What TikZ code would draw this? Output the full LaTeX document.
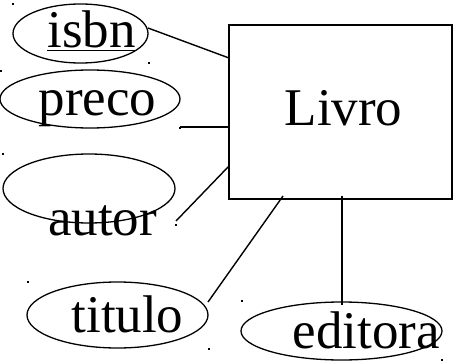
\documentclass[tikz,border=0pt]{standalone}
\usepackage{fontspec}
\setmainfont{Liberation Serif}
\usetikzlibrary{shapes.geometric}
\begin{document}
\begin{tikzpicture}[x=1pt,y=-1pt,
  attr/.style={draw, ellipse, line width=1.3pt, inner sep=0pt},
  lbl/.style={anchor=base, inner sep=0pt, font=\fontsize{53}{60}\selectfont},
  link/.style={line width=1.4pt},
  handle/.style={fill=black, inner sep=0pt, minimum size=1.6pt}]
\useasboundingbox (0,0) rectangle (453,361);

% entity
\node[draw, line width=1.8pt, minimum width=223pt, minimum height=174pt, inner sep=0pt] (livro) at (340.5,112) {};
\node[lbl] (t-livro) at (343.5,125) {Livro};

% attribute ellipses
\node[attr, minimum width=135pt, minimum height=59pt] (e-isbn) at (80.5,33.5) {};
\node[attr, minimum width=180pt, minimum height=58pt] (e-preco) at (90,99) {};
\node[attr, minimum width=172pt, minimum height=69pt] (e-autor) at (89,188.5) {};
\node[attr, minimum width=181pt, minimum height=66pt] (e-titulo) at (117.5,315) {};
\node[attr, minimum width=201pt, minimum height=58pt] (e-editora) at (341.5,331) {};

% attribute names
\node[lbl] (t-isbn) at (91.5,48) {\underline{isbn}};
\node[lbl] (t-preco) at (97.5,116) {preco};
\node[lbl] (t-autor) at (102.5,235) {autor};
\node[lbl] (t-titulo) at (127.5,332) {titulo};
\node[lbl] (t-editora) at (366.5,348) {editora};

% connector ends
\coordinate (c-isbn) at (148,28);
\coordinate (r-isbn) at (229,58);
\coordinate (c-preco) at (180,127);
\coordinate (r-preco) at (229,127);
\coordinate (c-autor) at (176,221);
\coordinate (r-autor) at (229,166);
\coordinate (c-titulo) at (208,302);
\coordinate (r-titulo) at (283,196);
\coordinate (c-editora) at (342,305);
\coordinate (r-editora) at (342,196);

\draw[link] (c-isbn) -- (r-isbn);
\draw[link] (c-preco) -- (r-preco);
\draw[link] (c-autor) -- (r-autor);
\draw[link] (c-titulo) -- (r-titulo);
\draw[link] (c-editora) -- (r-editora);

% selection handles
\foreach \p [count=\i] in {(13,4),(149,63),(0.8,71),(180,128),(3,154),(176,225),(28,282),(209,349),(242,301),(442,360)}
  \node[handle] (h\i) at \p {};
\end{tikzpicture}
\end{document}
